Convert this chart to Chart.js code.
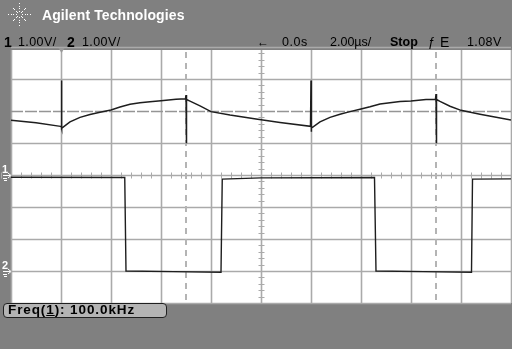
<!DOCTYPE html>
<html><head><meta charset="utf-8">
<script src="https://cdn.jsdelivr.net/npm/chart.js@4/dist/chart.umd.min.js"></script>
<style>
html,body{margin:0;padding:0;background:#808080;width:512px;height:349px;overflow:hidden;}
#wrap{position:relative;width:512px;height:349px;}
canvas{position:absolute;left:0;top:0;}
.t{position:absolute;font-family:"Liberation Sans",Arial,sans-serif;white-space:nowrap;color:#000;line-height:1;}
</style></head><body>
<div id="wrap">
<canvas id="c" width="512" height="349"></canvas>
<div class="t" style="left:42px;top:8px;font-size:14px;font-weight:bold;color:#fff;letter-spacing:0.1px;">Agilent Technologies</div>
<div class="t" style="left:4px;top:35px;font-size:14px;font-weight:bold;">1</div>
<div class="t" style="left:18px;top:36px;font-size:12.5px;letter-spacing:0.4px;">1.00V/</div>
<div class="t" style="left:67px;top:35px;font-size:14px;font-weight:bold;">2</div>
<div class="t" style="left:82px;top:36px;font-size:12.5px;letter-spacing:0.4px;">1.00V/</div>
<div class="t" style="left:257px;top:36px;font-size:12px;">←</div>
<div class="t" style="left:282px;top:36px;font-size:12.5px;letter-spacing:0.5px;">0.0s</div>
<div class="t" style="left:330px;top:36px;font-size:12.5px;">2.00µs/</div>
<div class="t" style="left:390px;top:36px;font-size:12.5px;font-weight:bold;">Stop</div>
<div class="t" style="left:428px;top:35px;font-size:13px;">ƒ</div>
<div class="t" style="left:440px;top:35px;font-size:14px;">E</div>
<div class="t" style="left:467px;top:36px;font-size:12.5px;letter-spacing:0.4px;">1.08V</div>
<div style="position:absolute;left:3px;top:303px;width:162px;height:13px;background:#b4b4b4;border:1px solid #202020;border-radius:4px;"></div>
<div class="t" style="left:8px;top:303px;font-size:13.5px;font-weight:bold;letter-spacing:0.9px;">Freq(<u>1</u>): 100.0kHz</div>
</div>
<script>
// Channel 1 (time in µs, volts)
const ch1Time = [-10,-9,-8.02,-7.99,-7.98,-7.97,-7.94,-7.64,-7.24,-6.84,-6.44,-6,-5.64,-5.24,-4.84,-4.44,-4,-3.4,-3.02,-3.0,-2.99,-2.97,-2.84,-2.44,-2,-1.24,-0.2,0.76,1.98,2.0,2.01,2.02,2.06,2.36,2.76,3.16,3.56,4,4.36,4.76,5.16,5.56,6,6.6,6.98,7.0,7.01,7.03,7.16,7.56,8,8.76,10];
const ch1Volts = [1.71,1.63,1.52,1.51,2.95,1.46,1.48,1.66,1.80,1.89,1.96,2.03,2.125,2.21,2.26,2.29,2.32,2.37,2.38,2.5,0.99,2.36,2.31,2.16,1.98,1.875,1.75,1.64,1.52,2.95,1.35,1.48,1.49,1.66,1.80,1.90,1.98,2.06,2.13,2.22,2.26,2.30,2.31,2.36,2.37,2.53,0.99,2.36,2.30,2.15,2.02,1.90,1.72];
// Channel 2 square wave
const ch2Time = [-10,-5.45,-5.40,-3.5,-1.6,-1.55,0,4.54,4.60,6.5,8.42,8.46,10];
const ch2Volts = [2.93,2.92,0.0,-0.02,-0.04,2.87,2.91,2.92,0.0,-0.02,-0.04,2.87,2.88];
// Scope settings
const timePerDiv = 2;      // µs/div
const voltsPerDiv = [1,1]; // V/div
const ch1Ground = 0;       // divisions from centre
const ch2Ground = -3;
const cursorTimes = [-3, 7];
const refLevelDiv = 2;     // dashed horizontal reference (div)
const triggerTime = -8;

const pts = (t,v)=>t.map((x,i)=>({x:x,y:v[i]}));

const scopePlugin = {
  id:'scope',
  beforeDatasetsDraw(chart){
    const {ctx, chartArea:a, scales} = chart;
    const xs = scales.x, ys = scales.y;
    ctx.save();
    ctx.fillStyle='#fff';
    ctx.fillRect(a.left,a.top,a.right-a.left,a.bottom-a.top);
    ctx.strokeStyle='#aaaaaa'; ctx.lineWidth=1.6;
    for(let d=-5; d<=5; d++){
      const x=Math.round(xs.getPixelForValue(d*timePerDiv))+0.5;
      ctx.beginPath(); ctx.moveTo(x,a.top); ctx.lineTo(x,a.bottom); ctx.stroke();
    }
    for(let d=-4; d<=4; d++){
      if(d===refLevelDiv) continue;
      const y=Math.round(ys.getPixelForValue(d))+0.5;
      ctx.beginPath(); ctx.moveTo(a.left,y); ctx.lineTo(a.right,y); ctx.stroke();
    }
    // minor ticks
    ctx.lineWidth=1;
    const cy=Math.round(ys.getPixelForValue(0))+0.5, cx=Math.round(xs.getPixelForValue(0))+0.5;
    for(let i=-50;i<=50;i++){
      const x=Math.round(xs.getPixelForValue(i*timePerDiv/5))+0.5;
      ctx.beginPath(); ctx.moveTo(x,cy-3); ctx.lineTo(x,cy+3); ctx.stroke();
    }
    for(let i=-20;i<=20;i++){
      const y=Math.round(ys.getPixelForValue(i/5))+0.5;
      if(y<a.top) continue;
      ctx.beginPath(); ctx.moveTo(cx-3,y); ctx.lineTo(cx+3,y); ctx.stroke();
    }
    // reference dashed level
    ctx.strokeStyle='#959595'; ctx.lineWidth=1.6; ctx.setLineDash([12,2]);
    const ry=Math.round(ys.getPixelForValue(refLevelDiv))+0.5;
    ctx.beginPath(); ctx.moveTo(a.left,ry); ctx.lineTo(a.right,ry); ctx.stroke();
    // cursors
    ctx.strokeStyle='#b4b4b4'; ctx.lineWidth=2; ctx.setLineDash([6,5]);
    cursorTimes.forEach(t=>{
      const x=Math.round(xs.getPixelForValue(t));
      ctx.beginPath(); ctx.moveTo(x,a.top+2); ctx.lineTo(x,a.bottom); ctx.stroke();
    });
    ctx.setLineDash([]);
    ctx.restore();
  },
  afterDraw(chart){
    const {ctx, chartArea:a, scales} = chart;
    ctx.save();
    // trigger marker
    const tx=Math.round(scales.x.getPixelForValue(triggerTime))+0.5;
    ctx.fillStyle='#999';
    ctx.beginPath(); ctx.moveTo(tx-3,a.top-2); ctx.lineTo(tx+3,a.top-2); ctx.lineTo(tx,a.top+3); ctx.closePath(); ctx.fill();
    // ground markers
    ctx.fillStyle='#fff'; ctx.strokeStyle='#fff'; ctx.lineWidth=1;
    ctx.font='bold 11px "Liberation Sans"';
    [[ch1Ground,'1'],[ch2Ground,'2']].forEach(([g,l])=>{
      const y=Math.round(scales.y.getPixelForValue(g));
      ctx.fillText(l,2,y-2);
      ctx.beginPath(); ctx.moveTo(3,y+0.5); ctx.lineTo(10,y+0.5); ctx.stroke();
      ctx.beginPath(); ctx.moveTo(8,y-2); ctx.lineTo(11,y+0.5); ctx.lineTo(8,y+3); ctx.stroke();
      ctx.fillRect(3,y+3,4,1); ctx.fillRect(4,y+5,3,1);
    });
    // Agilent spark logo
    const lx=19, ly=14;
    for(let k=0;k<8;k++){
      const ang=k*Math.PI/4;
      for(let r=3;r<=13;r+=2.6){
        const rr = (k%2)? r*0.8 : r;
        ctx.fillRect(Math.round(lx+Math.cos(ang)*rr),Math.round(ly+Math.sin(ang)*rr),1,1);
      }
    }
    ctx.restore();
  }
};

new Chart(document.getElementById('c'),{
  type:'line',
  data:{datasets:[
    {data:pts(ch1Time,ch1Volts),yAxisID:'y',borderColor:'#1e1e1e',borderWidth:1.5,pointRadius:0,tension:0},
    {data:pts(ch2Time,ch2Volts),yAxisID:'y2',borderColor:'#1e1e1e',borderWidth:1.4,pointRadius:0,tension:0}
  ]},
  options:{
    responsive:false,animation:false,
    layout:{padding:{left:11,right:1,top:50,bottom:46}},
    plugins:{legend:{display:false},tooltip:{enabled:false}},
    scales:{
      x:{type:'linear',display:false,min:-5*timePerDiv,max:5*timePerDiv},
      y:{type:'linear',display:false,min:(-4-ch1Ground)*voltsPerDiv[0],max:(3.906-ch1Ground)*voltsPerDiv[0]},
      y2:{type:'linear',display:false,min:(-4-ch2Ground)*voltsPerDiv[1],max:(3.906-ch2Ground)*voltsPerDiv[1]}
    }
  },
  plugins:[scopePlugin]
});
</script>
</body></html>
